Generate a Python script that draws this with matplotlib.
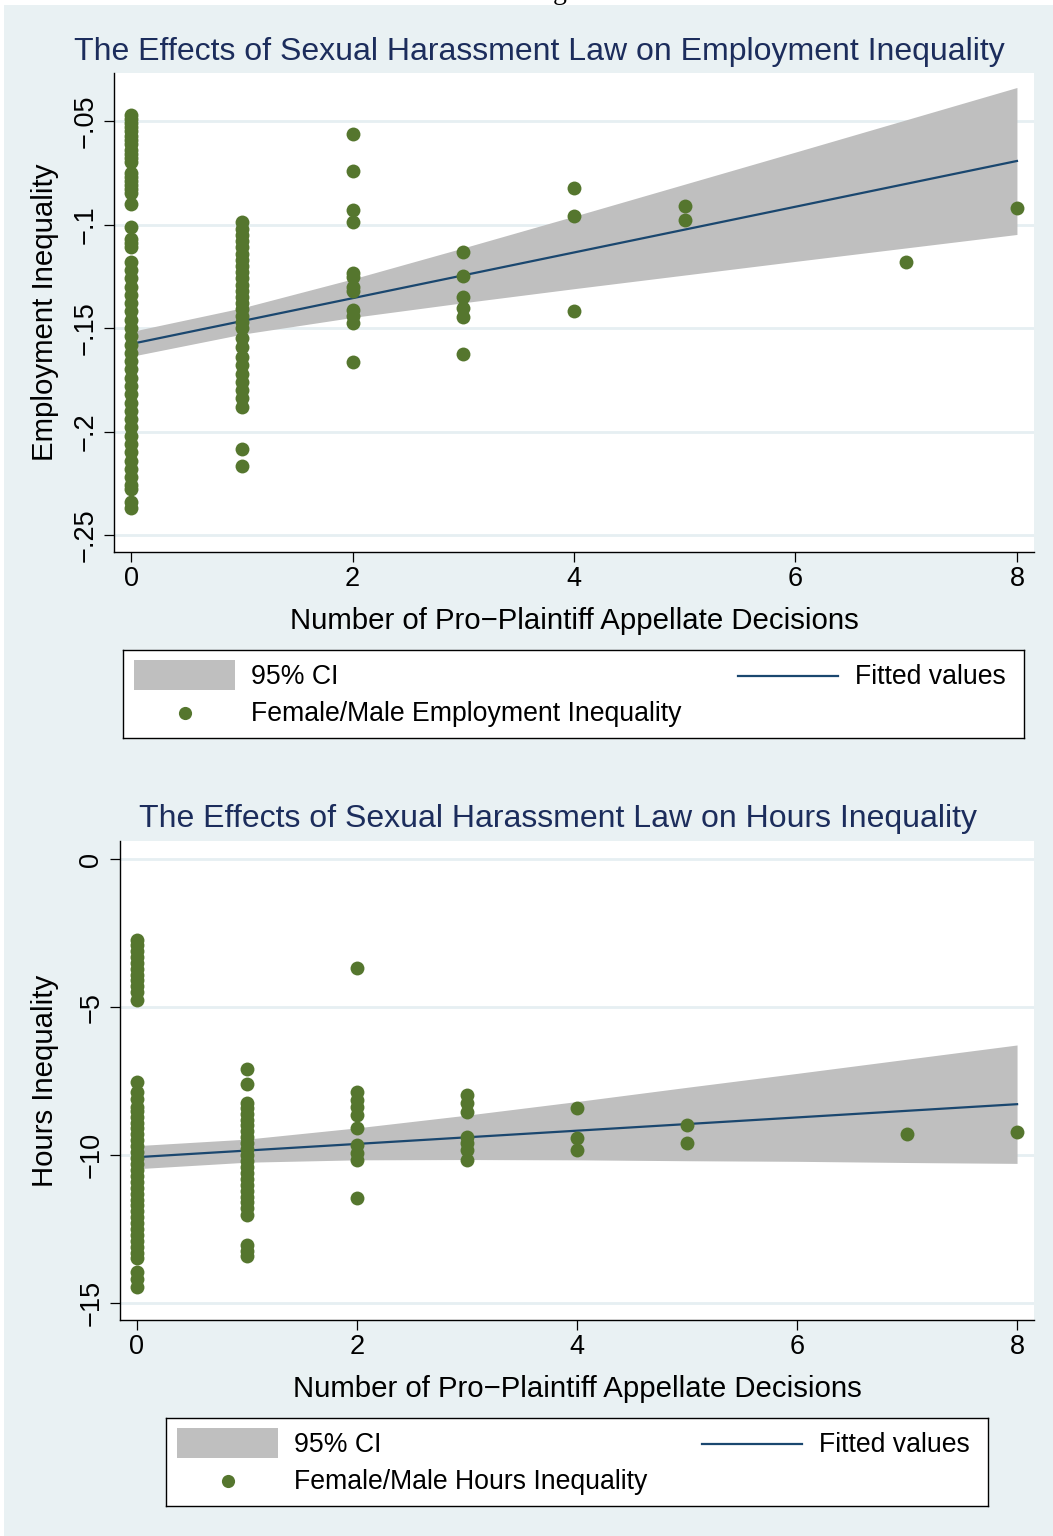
import numpy as np
import matplotlib
matplotlib.use("Agg")
import matplotlib.pyplot as plt
from matplotlib.patches import Rectangle
from matplotlib.lines import Line2D

plt.rcParams['font.family'] = ['Liberation Sans', 'DejaVu Sans']

W, H = 1053, 1536

# Colours
BG = '#E9F1F3'
GRID = '#E6EFF2'
TITLE_C = '#1C2D5C'
DOT_C = '#55762E'
LINE_C = '#1A476F'
CI_C = '#BFBFBF'

# ---- Employment inequality by number of pro-plaintiff decisions ----
emp_0 = [-0.047, -0.049, -0.051, -0.053, -0.055, -0.057, -0.059, -0.061,
         -0.064, -0.066, -0.068, -0.070,
         -0.075, -0.077, -0.079, -0.081, -0.083, -0.085, -0.090,
         -0.101, -0.107, -0.109, -0.111,
         -0.118, -0.122, -0.126, -0.130, -0.134, -0.138, -0.142, -0.146,
         -0.150, -0.154, -0.158, -0.162, -0.166, -0.170, -0.174, -0.178,
         -0.182, -0.186, -0.190, -0.194, -0.198, -0.202, -0.206, -0.210,
         -0.214, -0.218, -0.222, -0.226, -0.228, -0.234, -0.237]
emp_1 = [-0.099, -0.102, -0.105, -0.108, -0.111, -0.114, -0.117, -0.120,
         -0.123, -0.126, -0.129, -0.132, -0.135, -0.138, -0.141, -0.144,
         -0.147, -0.150, -0.155, -0.159,
         -0.164, -0.168, -0.172, -0.176, -0.180, -0.184, -0.188,
         -0.2085, -0.2167]
emp_2 = [-0.0563, -0.0742, -0.0928, -0.0986, -0.1234, -0.1255, -0.1300,
         -0.1320, -0.1413, -0.1442, -0.1476, -0.1664]
emp_3 = [-0.1135, -0.1251, -0.1350, -0.1403, -0.1447, -0.1626]
emp_4 = [-0.0824, -0.0957, -0.1418]
emp_5 = [-0.0911, -0.0976]
emp_7 = [-0.1179]
emp_8 = [-0.0920]

emp_fit_x = [0, 8]
emp_fit_y = [-0.1577, -0.0693]
emp_ci_x = [0, 1, 2, 3, 4, 5, 6, 7, 8]
emp_ci_lo = [-0.1637, -0.1530, -0.1449, -0.1378, -0.1310, -0.1244, -0.1178, -0.1113, -0.1048]
emp_ci_hi = [-0.1517, -0.1403, -0.1263, -0.1113, -0.0960, -0.0805, -0.0650, -0.0494, -0.0338]

# ---- Hours inequality by number of pro-plaintiff decisions ----
hrs_0 = [-2.75, -2.9, -3.1, -3.3, -3.5, -3.7, -3.9, -4.1, -4.3, -4.5, -4.75,
         -7.53, -7.87, -8.10, -8.38,
         -8.5, -8.7, -8.9, -9.1, -9.3, -9.5, -9.7, -9.9, -10.1, -10.3, -10.5,
         -10.7, -10.9, -11.1, -11.3, -11.5, -11.7, -11.9, -12.1, -12.3, -12.5,
         -12.7, -12.9, -13.1, -13.3, -13.48,
         -13.95, -14.2, -14.46]
hrs_1 = [-7.09, -7.60,
         -8.24, -8.4, -8.6, -8.8, -9.0, -9.2, -9.4, -9.6, -9.8, -10.0, -10.2,
         -10.4, -10.6, -10.8, -11.0, -11.2, -11.4, -11.6, -11.8, -12.03,
         -13.04, -13.25, -13.41]
hrs_2 = [-3.68, -7.87, -8.14, -8.38, -8.65, -9.09, -9.66, -9.93, -10.17, -11.45]
hrs_3 = [-7.97, -8.24, -8.55, -9.39, -9.59, -9.83, -10.17]
hrs_4 = [-8.41, -9.43, -9.83]
hrs_5 = [-8.99, -9.59]
hrs_7 = [-9.29]
hrs_8 = [-9.22]

hrs_fit_x = [0, 8]
hrs_fit_y = [-10.07, -8.28]
hrs_ci_x = [0, 1, 2, 3, 4, 5, 6, 7, 8]
hrs_ci_lo = [-10.46, -10.24, -10.16, -10.15, -10.16, -10.19, -10.21, -10.25, -10.28]
hrs_ci_hi = [-9.68, -9.46, -9.08, -8.65, -8.19, -7.71, -7.24, -6.76, -6.28]

xticks = [0, 2, 4, 6, 8]
xlabel = 'Number of Pro\u2212Plaintiff Appellate Decisions'


def stack(groups):
    xs, ys = [], []
    for k, vals in groups:
        xs += [k] * len(vals)
        ys += vals
    return np.array(xs), np.array(ys)


def px_axes(fig, left, top, right, bottom):
    return fig.add_axes([left / W, 1 - bottom / H, (right - left) / W, (bottom - top) / H])


def draw_panel(ax, x, y, fit_x, fit_y, ci_x, ci_lo, ci_hi, ylim, yticks, yticklabels, ylabel, ylab_x):
    ax.set_facecolor('white')
    ax.fill_between(ci_x, ci_lo, ci_hi, color=CI_C, lw=0, zorder=2)
    ax.plot(fit_x, fit_y, color=LINE_C, lw=1.6, zorder=3)
    ax.scatter(x, y, s=100, color=DOT_C, lw=0, zorder=4)
    ax.set_xlim(-0.154, 8.154)
    ax.set_ylim(*ylim)
    ax.set_xticks(xticks)
    ax.set_xticklabels([str(t) for t in xticks])
    ax.set_yticks(yticks)
    ax.set_yticklabels(yticklabels, rotation=90, va='center')
    ax.yaxis.grid(True, color=GRID, lw=2)
    ax.set_axisbelow(True)
    for s in ['top', 'right']:
        ax.spines[s].set_visible(False)
    for s in ['left', 'bottom']:
        ax.spines[s].set_linewidth(1.0)
        ax.spines[s].set_color('black')
    ax.tick_params(axis='both', length=7.2, width=0.9, labelsize=19.5, color='black')
    ax.tick_params(axis='x', pad=3)
    ax.tick_params(axis='y', pad=4)
    ax.set_xlabel(xlabel, fontsize=21.2)
    ax.xaxis.set_label_coords(0.5, -0.144)
    ax.xaxis.label.set_va('center')
    ax.set_ylabel(ylabel, fontsize=21.2)
    ax.yaxis.set_label_coords(ylab_x, 0.5)
    ax.yaxis.label.set_va('center')


def draw_legend(fig, left, top, width, height, line_x, dot_label):
    lg = px_axes(fig, left, top, left + width, top + height)
    lg.set_xlim(0, width)
    lg.set_ylim(height, 0)
    lg.set_xticks([])
    lg.set_yticks([])
    lg.set_facecolor('white')
    for s in lg.spines.values():
        s.set_linewidth(1.0)
        s.set_color('black')
    lg.add_patch(Rectangle((11, 10), 101, 30, color=CI_C, lw=0))
    lg.text(128, 27, '95% CI', fontsize=19.2, va='center', ha='left')
    lg.add_line(Line2D([line_x, line_x + 100], [26, 26], color=LINE_C, lw=1.6))
    lg.text(line_x + 117, 27, 'Fitted values', fontsize=19.2, va='center', ha='left')
    lg.scatter([62], [63], s=90, color=DOT_C, lw=0)
    lg.text(128, 64, dot_label, fontsize=19.2, va='center', ha='left')


fig = plt.figure(figsize=(W / 100, H / 100), dpi=100, facecolor='white')

# outer graph region, kept behind the panels
fig.patches.append(Rectangle((4 / W, 0), 1 - 4 / W, 1 - 5 / H, transform=fig.transFigure,
                             color=BG, lw=0, zorder=-10))
fig.text(560 / W, 1 + 1 / H, 'g', family='Liberation Serif', fontsize=20, va='baseline', ha='center')

# top panel
ax1 = px_axes(fig, 114, 73, 1034, 552)
ex, ey = stack([(0, emp_0), (1, emp_1), (2, emp_2), (3, emp_3), (4, emp_4),
                (5, emp_5), (7, emp_7), (8, emp_8)])
draw_panel(ax1, ex, ey, emp_fit_x, emp_fit_y, emp_ci_x, emp_ci_lo, emp_ci_hi,
           (-0.2582, -0.0268), [-0.25, -0.2, -0.15, -0.1, -0.05],
           ['\u2212.25', '\u2212.2', '\u2212.15', '\u2212.1', '\u2212.05'],
           'Employment Inequality', -0.075)
fig.text(539 / W, 1 - 60 / H, 'The Effects of Sexual Harassment Law on Employment Inequality',
         fontsize=23, color=TITLE_C, ha='center', va='baseline')
draw_legend(fig, 123, 650, 901, 88, 615, 'Female/Male Employment Inequality')

# bottom panel
ax2 = px_axes(fig, 120, 841, 1034, 1320)
hx, hy = stack([(0, hrs_0), (1, hrs_1), (2, hrs_2), (3, hrs_3), (4, hrs_4),
                (5, hrs_5), (7, hrs_7), (8, hrs_8)])
draw_panel(ax2, hx, hy, hrs_fit_x, hrs_fit_y, hrs_ci_x, hrs_ci_lo, hrs_ci_hi,
           (-15.57, 0.61), [-15, -10, -5, 0],
           ['\u221215', '\u221210', '\u22125', '0'],
           'Hours Inequality', -0.082)
fig.text(558 / W, 1 - 827 / H, 'The Effects of Sexual Harassment Law on Hours Inequality',
         fontsize=23, color=TITLE_C, ha='center', va='baseline')
draw_legend(fig, 166, 1418, 822, 88, 536, 'Female/Male Hours Inequality')

fig.savefig('out.png', dpi=100, facecolor=fig.get_facecolor())
